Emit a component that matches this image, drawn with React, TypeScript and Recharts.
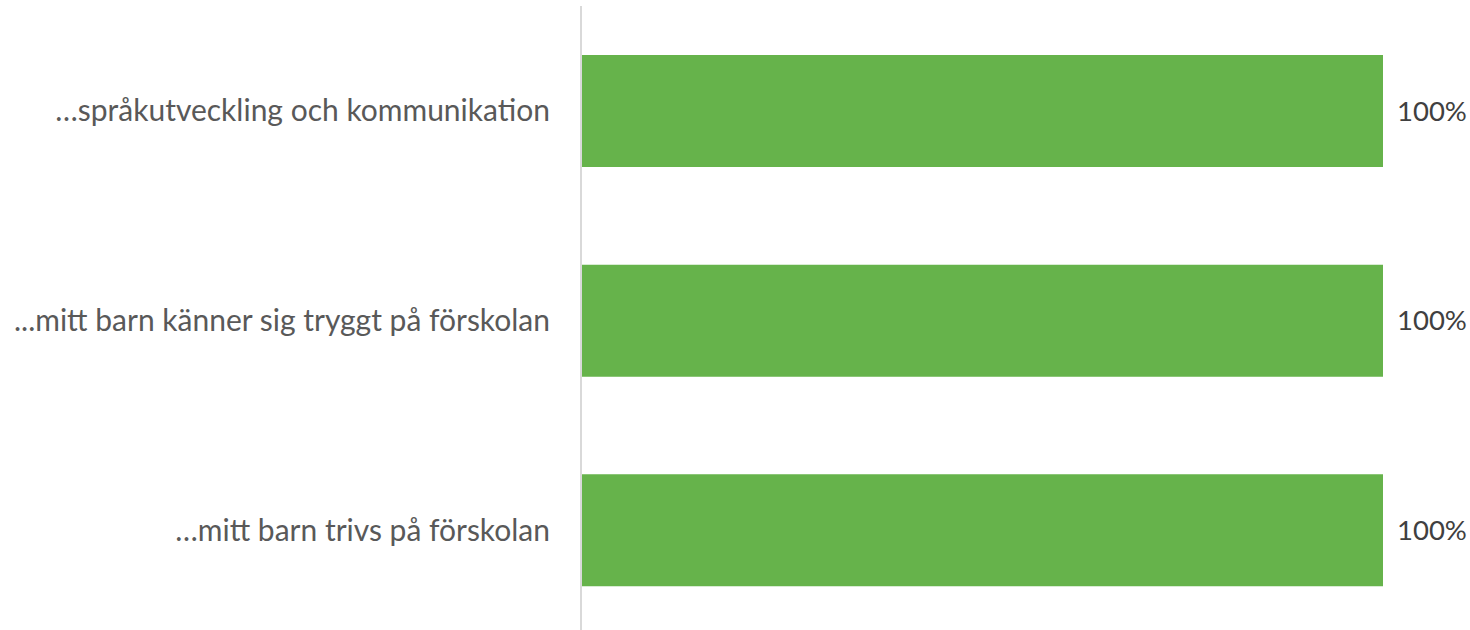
import React from "react";
import { BarChart, Bar, XAxis, YAxis, LabelList } from "recharts";

const categories = [
  "…språkutveckling och kommunikation",
  "...mitt barn känner sig tryggt på förskolan",
  "…mitt barn trivs på förskolan",
];
const values = [100, 100, 100];

const data = categories.map((name, i) => ({ name, value: values[i] }));

const FONT = "Lato, 'Open Sans', sans-serif";

export default function App() {
  return (
    <div style={{ position: "absolute", left: 0, top: 0 }}>
      <BarChart
        width={1470}
        height={641}
        data={data}
        layout="vertical"
        margin={{ top: 6, right: 87, bottom: 6, left: 0 }}
      >
        <XAxis type="number" domain={[0, 100]} hide />
        <YAxis
          type="category"
          dataKey="name"
          width={581}
          tickLine={false}
          tickSize={0}
          tickMargin={31}
          axisLine={{ stroke: "#d9d9d9", strokeWidth: 2 }}
          tick={{ fill: "#595959", fontSize: 30, fontFamily: FONT }}
        />
        <Bar dataKey="value" fill="#66B34B" barSize={112} isAnimationActive={false}>
          <LabelList
            dataKey="value"
            position="right"
            offset={14}
            formatter={(v: number) => `${v}%`}
            style={{ fill: "#404040", fontSize: 27.5, fontFamily: FONT }}
          />
        </Bar>
      </BarChart>
    </div>
  );
}
